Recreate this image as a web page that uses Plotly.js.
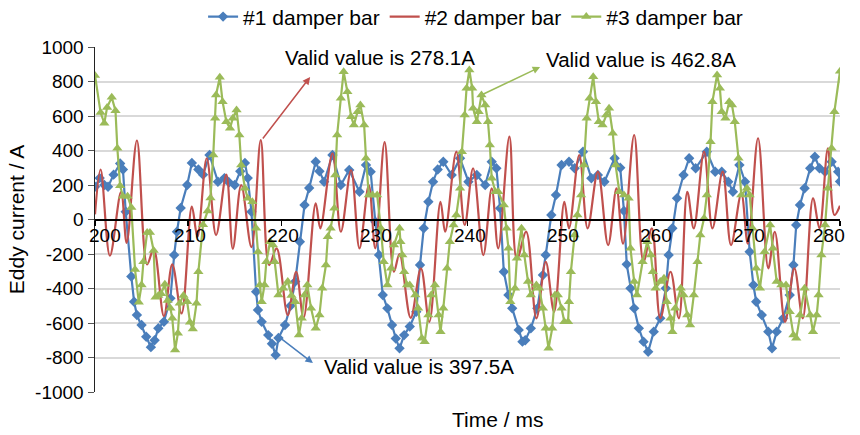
<!DOCTYPE html>
<html>
<head>
<meta charset="utf-8">
<script src="https://cdn.plot.ly/plotly-3.0.1.min.js"></script>
<style>html,body{margin:0;padding:0;background:#fff;}#chart{width:860px;height:435px;}</style>
</head>
<body>
<div id="chart"></div>
<script>
// #1 damper bar (time ms, current A)
const time1 = [200.0,200.5,201.0,201.4,202.0,202.7,203.0,203.3,203.9,204.2,204.5,205.0,205.5,206.0,206.4,206.8,207.4,208.1,208.5,208.8,209.2,209.9,210.4,211.1,211.6,212.3,213.2,213.9,214.4,215.0,215.6,216.1,216.4,216.8,217.3,217.5,217.9,218.6,219.0,219.4,219.7,220.4,221.0,221.5,222.0,222.5,223.0,223.7,224.1,224.6,225.5,226.4,227.3,228.4,229.1,229.6,230.1,230.5,230.9,231.4,231.9,232.3,232.7,233.2,233.8,234.5,234.9,235.3,235.8,236.3,236.8,237.4,238.3,239.2,240.1,241.0,241.9,242.6,243.1,243.5,243.9,244.4,244.8,245.5,245.9,246.2,246.8,247.5,248.1,248.4,249.0,249.5,250.1,250.9,251.5,252.4,253.3,254.0,254.7,255.8,256.4,256.8,257.1,257.5,257.9,258.4,258.9,259.4,260.0,260.7,261.3,261.6,262.0,262.5,263.2,263.8,264.5,265.7,266.6,267.3,268.0,268.5,269.2,269.8,270.3,270.7,271.0,271.6,272.3,272.7,273.2,273.9,274.6,275.0,275.3,275.7,276.2,276.8,277.3,277.8,278.4,279.1,279.8,280.0];
const current1 = [190,240,200,190,260,325,290,45,-330,-477,-554,-612,-680,-740,-700,-630,-593,-457,-206,-71,67,200,328,290,260,374,219,240,215,200,280,328,240,45,-419,-525,-593,-670,-720,-786,-687,-612,-500,-360,-129,84,183,335,280,219,374,200,287,161,316,277,-13,-206,-438,-515,-612,-690,-747,-670,-620,-535,-264,-51,103,219,290,335,258,355,219,258,200,335,297,65,-303,-438,-515,-640,-708,-700,-631,-515,-322,-206,26,142,316,335,297,393,239,258,219,355,300,50,-260,-399,-515,-631,-708,-767,-650,-573,-399,-206,-51,123,258,355,297,393,277,277,219,161,316,219,-187,-380,-477,-554,-650,-747,-650,-573,-438,-264,-32,84,181,297,364,297,277,335,277,220];

// #2 damper bar
const time2 = [200.0,200.6,201.6,202.8,203.4,204.5,205.6,206.3,207.4,208.3,209.3,210.4,211.0,212.0,213.0,214.1,214.8,215.7,216.8,217.8,218.7,219.5,220.7,221.6,222.4,223.7,224.2,225.5,226.4,227.5,228.4,229.4,230.1,231.1,232.1,232.7,233.9,235.0,235.9,237.1,237.6,238.8,239.7,240.6,241.7,242.6,243.3,244.5,245.3,246.3,247.4,248.4,249.3,250.4,250.9,252.0,252.9,254.0,255.1,256.0,256.7,257.9,258.9,259.8,260.7,261.8,262.7,263.6,264.3,265.4,266.3,267.4,268.3,269.4,270.1,271.2,272.3,273.0,274.1,275.1,276.0,277.1,277.8,278.7,279.4,280.0];
const current2 = [30,290,-210,160,-135,458,-260,-170,-560,-260,-545,75,-100,355,-90,260,-170,200,-160,461,-264,-167,-554,-303,-570,94,-51,384,-71,287,-167,200,-167,448,-303,-200,-570,-283,-593,103,-71,393,-32,297,-206,181,-167,480,-230,-71,-573,-245,-535,103,-51,374,-51,277,-148,181,-140,490,-245,-51,-573,-303,-573,161,-51,393,-51,277,-148,150,-140,471,-283,-71,-593,-283,-573,123,-51,413,26,80];

// #3 damper bar
const time3 = [200.0,200.6,201.0,201.3,201.8,202.2,202.4,202.7,203.0,203.5,203.9,204.3,204.7,205.0,205.2,205.6,205.9,206.3,206.5,206.8,207.1,207.5,207.8,208.1,208.3,208.6,208.9,209.1,209.5,209.9,210.2,210.5,210.9,211.1,211.6,212.1,212.4,212.7,212.9,213.0,213.4,213.7,214.1,214.5,214.8,215.2,215.5,215.7,216.1,216.4,216.9,217.3,217.5,217.7,217.9,218.2,218.4,218.8,219.1,219.3,219.7,220.2,220.7,221.1,221.5,221.9,222.2,222.5,222.8,223.2,223.7,224.1,224.4,224.8,225.0,225.3,225.7,225.8,226.0,226.4,226.7,227.1,227.5,227.8,228.2,228.5,228.9,229.1,229.4,229.8,230.3,230.7,231.0,231.4,231.8,232.1,232.7,232.8,233.0,233.2,233.5,233.8,234.4,234.7,235.1,235.4,235.8,236.1,236.5,236.9,237.1,237.4,237.8,238.1,238.5,238.8,239.2,239.4,239.7,239.9,240.2,240.5,240.6,241.0,241.2,241.5,241.9,242.2,242.4,242.6,243.0,243.3,243.9,244.2,244.4,244.6,245.1,245.3,245.8,246.1,246.5,246.8,247.4,247.7,248.1,248.4,248.7,249.1,249.4,249.7,250.1,250.4,250.8,250.9,251.1,251.5,251.8,252.2,252.5,252.8,253.1,253.5,253.8,254.1,254.5,254.9,255.2,255.6,255.9,256.3,256.8,257.3,257.5,257.9,258.2,258.8,259.3,259.7,259.9,260.2,260.7,261.1,261.4,261.8,262.0,262.3,262.9,263.2,263.6,263.9,264.3,264.7,265.0,265.4,265.7,266.1,266.3,266.8,267.1,267.3,267.7,268.1,268.4,268.7,269.1,269.4,270.0,270.3,270.6,271.0,271.4,271.9,272.5,272.8,273.2,273.7,274.2,274.6,275.0,275.3,275.7,276.2,276.8,277.1,277.5,277.7,278.0,278.4,278.7,279.1,279.4,280.0];
const current3 = [835,620,558,650,708,630,413,195,135,135,70,-290,-480,-380,-245,-75,-75,-180,-450,-440,-430,-375,-470,-515,-573,-757,-660,-486,-440,-477,-595,-635,-486,-303,-30,50,125,374,587,722,825,683,567,529,587,635,490,316,181,123,103,-51,-187,-380,-477,-380,-245,-129,-148,-245,-438,-399,-360,-440,-477,-670,-573,-438,-380,-515,-631,-554,-399,-264,-100,-51,65,258,490,703,857,741,596,548,625,664,548,355,142,142,142,-51,-245,-380,-283,-148,-51,-129,-206,-303,-380,-380,-438,-515,-689,-708,-554,-438,-380,-554,-651,-515,-283,-129,-32,26,181,393,606,761,867,761,645,567,625,722,664,567,432,239,161,161,84,-51,-167,-477,-399,-225,-51,-206,-360,-438,-380,-399,-515,-631,-747,-631,-438,-438,-515,-593,-593,-477,-303,-90,26,142,316,587,703,828,683,567,548,606,645,500,316,161,142,123,-167,-360,-438,-245,-129,-206,-303,-399,-360,-341,-477,-573,-651,-515,-399,-438,-554,-612,-438,-245,-90,7,142,451,683,838,761,625,587,683,664,567,355,142,181,142,-50,-283,-399,-187,-32,-167,-360,-380,-380,-535,-670,-689,-554,-399,-554,-651,-554,-438,-206,-32,181,413,625,860];

const seriesNames = ['#1 damper bar', '#2 damper bar', '#3 damper bar'];
const xTickVals = [200, 210, 220, 230, 240, 250, 260, 270, 280];
const yTickVals = [-1000, -800, -600, -400, -200, 0, 200, 400, 600, 800, 1000];
const yTickText = ['-1000', '-800', '-600', '-400', '-200', '0', '200', '400', '600', '800', '1000'];

const FONT = 'Liberation Sans, Arial, sans-serif';
const BLUE = '#4a7ebb', RED = '#c0504d', GREEN = '#9bbb59';

const traces = [
  {x: time1, y: current1, name: seriesNames[0], type: 'scatter', mode: 'lines+markers',
   line: {color: BLUE, width: 2.2}, marker: {symbol: 'diamond', size: 8, color: BLUE}},
  {x: time2, y: current2, name: seriesNames[1], type: 'scatter', mode: 'lines',
   line: {color: RED, width: 2.2, shape: 'spline', smoothing: 1}},
  {x: time3, y: current3, name: seriesNames[2], type: 'scatter', mode: 'lines+markers',
   line: {color: GREEN, width: 2.2}, marker: {symbol: 'triangle-up', size: 9, color: GREEN}}
];

const annotations = [];
xTickVals.forEach(function (v, k) {
  let shift = 2;
  if (k === 0) shift = 10;
  if (k === xTickVals.length - 1) shift = -11;
  annotations.push({x: v, y: 0, xref: 'x', yref: 'y', text: String(v), showarrow: false,
    xanchor: 'center', yanchor: 'top', xshift: shift, yshift: -3,
    font: {family: FONT, size: 19, color: '#000'}});
});
// arrows (head at the text)
annotations.push({x: 223.1, y: 826, ax: 217.9, ay: 461, xref: 'x', yref: 'y', axref: 'x', ayref: 'y',
  text: '', showarrow: true, arrowhead: 2, arrowsize: 1, arrowwidth: 1.5, arrowcolor: RED});
annotations.push({x: 223.4, y: -832, ax: 219.9, ay: -687, xref: 'x', yref: 'y', axref: 'x', ayref: 'y',
  text: '', showarrow: true, arrowhead: 2, arrowsize: 1, arrowwidth: 1.5, arrowcolor: BLUE});
annotations.push({x: 247.8, y: 884, ax: 241.5, ay: 722, xref: 'x', yref: 'y', axref: 'x', ayref: 'y',
  text: '', showarrow: true, arrowhead: 2, arrowsize: 1, arrowwidth: 1.5, arrowcolor: GREEN});
// texts
annotations.push({x: 230.6, y: 942, xref: 'x', yref: 'y', text: 'Valid value is 278.1A', showarrow: false,
  xanchor: 'center', yanchor: 'middle', font: {family: FONT, size: 20.5, color: '#000'}});
annotations.push({x: 258.6, y: 925, xref: 'x', yref: 'y', text: 'Valid value is 462.8A', showarrow: false,
  xanchor: 'center', yanchor: 'middle', font: {family: FONT, size: 20.5, color: '#000'}});
annotations.push({x: 234.8, y: -855, xref: 'x', yref: 'y', text: 'Valid value is 397.5A', showarrow: false,
  xanchor: 'center', yanchor: 'middle', font: {family: FONT, size: 20.5, color: '#000'}});
// x-axis title
annotations.push({x: 0.54, y: -0.081, xref: 'paper', yref: 'paper', text: 'Time / ms', showarrow: false,
  xanchor: 'center', yanchor: 'middle', font: {family: FONT, size: 21, color: '#000'}});

const layout = {
  width: 860, height: 435,
  margin: {l: 95, r: 20, t: 47, b: 43},
  paper_bgcolor: '#fff', plot_bgcolor: '#fff',
  font: {family: FONT, size: 19, color: '#000'},
  showlegend: true,
  legend: {orientation: 'h', x: 0.553, xref: 'container', xanchor: 'center', y: 0.961, yref: 'container', yanchor: 'middle',
    font: {family: FONT, size: 21, color: '#000'}, itemwidth: 30, tracegroupgap: 0},
  xaxis: {range: [200, 280], anchor: 'free', position: 0.5, tickvals: xTickVals, showticklabels: false,
    ticks: 'outside', ticklen: 5, tickwidth: 1.5, tickcolor: '#000', showline: true, linecolor: '#000', linewidth: 2,
    showgrid: false, zeroline: false},
  yaxis: {range: [-1000, 1000], tickvals: yTickVals, ticktext: yTickText, ticks: 'outside', ticklen: 6, tickwidth: 1, tickcolor: '#555',
    showline: true, linecolor: '#222', linewidth: 1.5, showgrid: true, gridcolor: '#d9d9d9', gridwidth: 2,
    zeroline: false, tickfont: {family: FONT, size: 19, color: '#000'},
    title: {text: 'Eddy current / A', font: {family: FONT, size: 21, color: '#000'}, standoff: 4}},
  annotations: annotations
};

Plotly.newPlot('chart', traces, layout, {displayModeBar: false, staticPlot: true});
</script>
</body>
</html>
